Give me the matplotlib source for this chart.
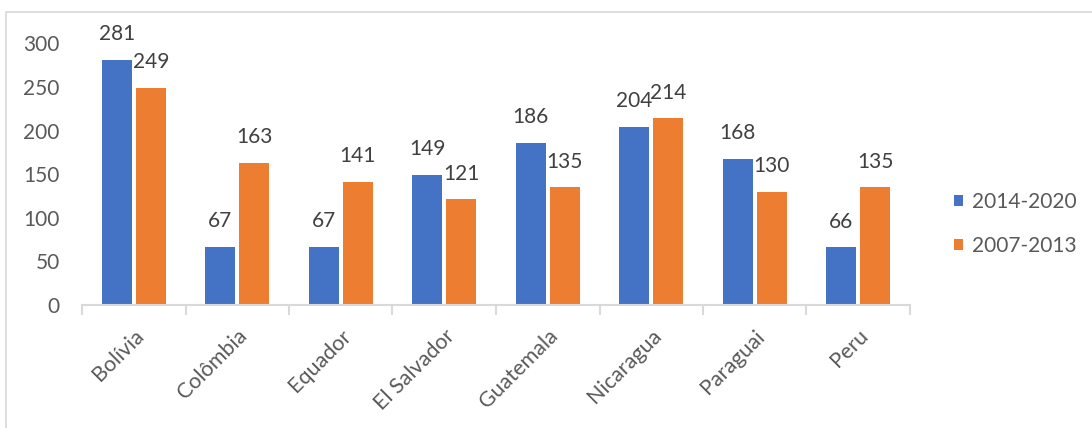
import numpy as np
import matplotlib
matplotlib.use("Agg")
import matplotlib.pyplot as plt
from matplotlib.patches import Rectangle

paises = ["Bolívia", "Colômbia", "Equador", "El Salvador", "Guatemala",
          "Nicaragua", "Paraguai", "Peru"]
v_2014_2020 = [281, 67, 67, 149, 186, 204, 168, 66]
v_2007_2013 = [249, 163, 141, 121, 135, 214, 130, 135]
yticks = [0, 50, 100, 150, 200, 250, 300]

azul = "#4472C4"
laranja = "#ED7D31"
cinza = "#595959"
linha = "#D9D9D9"

plt.rcParams["font.family"] = ["Lato", "DejaVu Sans"]

fig = plt.figure(figsize=(10.92, 4.28), dpi=100)
ax = fig.add_axes([82 / 1092, 1 - 305 / 428, (910 - 82) / 1092, (305 - 43.4) / 428])

# moldura do gráfico
fig.patches.append(Rectangle((6 / 1092, -0.01), 1.0, 1 - 12.5 / 428 + 0.01,
                             transform=fig.transFigure, fill=False,
                             edgecolor=linha, linewidth=1.2))

x = np.arange(len(paises))
w = 0.29
off = 0.165
b1 = ax.bar(x - off, v_2014_2020, w, color=azul, label="2014-2020")
b2 = ax.bar(x + off, v_2007_2013, w, color=laranja, label="2007-2013")

for bars, vals in [(b1, v_2014_2020), (b2, v_2007_2013)]:
    for b, v in zip(bars, vals):
        ax.annotate(str(v), (b.get_x() + b.get_width() / 2, v),
                    xytext=(0, 18.5), textcoords="offset points",
                    ha="center", va="center", fontsize=15, color="#404040",
                    annotation_clip=False)

ax.set_xlim(-0.5, len(paises) - 0.5)
ax.set_ylim(0, 300)
ax.set_yticks(yticks)
ax.tick_params(axis="y", length=0, labelsize=15, labelcolor=cinza, pad=16)

# ticks entre categorias
ax.set_xticks(np.arange(len(paises) + 1) - 0.5, minor=False)
ax.set_xticklabels([])
ax.tick_params(axis="x", which="major", length=7, color=linha, width=1.5)
ax.set_xticks(x, minor=True)
ax.set_xticklabels(paises, minor=True, rotation=45, ha="right",
                   rotation_mode="anchor", fontsize=15.5, color=cinza)
ax.tick_params(axis="x", which="minor", length=0, pad=15)

for s in ["top", "right", "left"]:
    ax.spines[s].set_visible(False)
ax.spines["bottom"].set_color(linha)
ax.spines["bottom"].set_linewidth(1.5)

fig.legend(handles=[b1, b2], loc="center left",
           bbox_to_anchor=(935 / 1092, 1 - 224 / 428), frameon=False,
           fontsize=15, labelcolor=cinza, handlelength=0.42,
           handleheight=0.42, handletextpad=0.45, labelspacing=1.15)

fig.savefig("out.png", dpi=100)
